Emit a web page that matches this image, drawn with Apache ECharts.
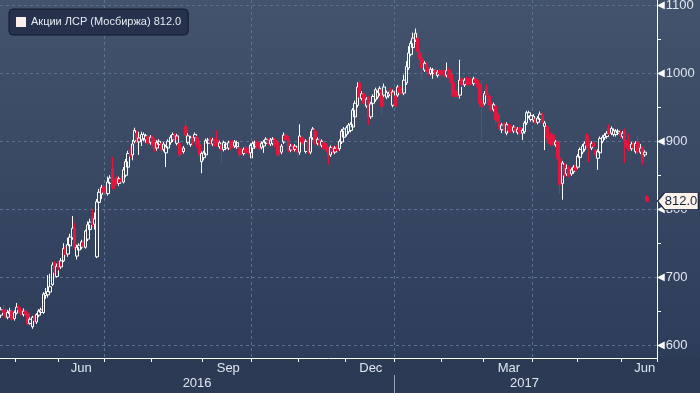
<!DOCTYPE html>
<html><head><meta charset="utf-8">
<script src="https://cdn.jsdelivr.net/npm/echarts@6/dist/echarts.min.js"></script>
<style>html,body{margin:0;padding:0;background:#2c3a56;}#c{width:700px;height:393px;}</style>
</head><body><div id="c"></div>
<script>
// ---- data ----
const seriesName = 'Акции ЛСР (Мосбиржа)';
const months = ['2016-04','2016-05','2016-06','2016-07','2016-08','2016-09','2016-10','2016-11','2016-12','2017-01','2017-02','2017-03','2017-04','2017-05','2017-06'];
const sessionDays = [
 [21,22,25,26,27,28,29],
 [4,5,6,10,11,12,13,16,17,18,19,20,23,24,25,26,27,30,31],
 [1,2,3,6,7,8,9,10,14,15,16,17,20,21,22,23,24,27,28,29,30],
 [1,4,5,6,7,8,11,12,13,14,15,18,19,20,21,22,25,26,27,28,29],
 [1,2,3,4,5,8,9,10,11,12,15,16,17,18,19,22,23,24,25,26,29,30,31],
 [1,2,5,6,7,8,9,12,13,14,15,16,19,20,21,22,23,26,27,28,29,30],
 [3,4,5,6,7,10,11,12,13,14,17,18,19,20,21,24,25,26,27,28,31],
 [1,2,3,7,8,9,10,11,14,15,16,17,18,21,22,23,24,25,28,29,30],
 [1,2,5,6,7,8,9,12,13,14,15,16,19,20,21,22,23,26,27,28,29,30],
 [3,4,5,6,9,10,11,12,13,16,17,18,19,20,23,24,25,26,27,30,31],
 [1,2,3,6,7,8,9,10,13,14,15,16,17,20,21,22,24,27,28],
 [1,2,3,6,7,9,10,13,14,15,16,17,20,21,22,23,24,27,28,29,30,31],
 [3,4,5,6,7,10,11,12,13,14,17,18,19,20,21,24,25,26,27,28],
 [2,3,4,5,10,11,12,15,16,17,18,19,22,23,24,25,26,29,30,31],
 [1,2,5,6,7,8,9,13,14,15,16,19,20,21,22,23]
];
const lastMonthSessions = 21;
const monthNames = ['Jan','Feb','Mar','Apr','May','Jun','Jul','Aug','Sep','Oct','Nov','Dec'];
const labelMonths = ['2016-06','2016-09','2016-12','2017-03','2017-06'];
const quarterMonths = ['01','04','07','10'];
const yearLabels = ['2016','2017'];

const opens = [
 644,652,650,641,646,650,639,
 647,655,652,645,650,647,632,627,641,634,644,648,648,673,674,678,689,721,701,
 721,715,724,744,734,746,758,772,731,740,744,752,744,756,770,789,778,730,810,822,833,
 832,823,838,860,840,847,838,846,840,850,862,888,880,900,912,899,902,904,902,907,898,
 906,902,890,895,897,888,883,890,898,902,909,897,897,890,885,922,898,895,905,905,905,895,870,
 876,880,897,903,896,902,902,892,895,888,890,890,898,899,893,892,890,887,882,890,888,883,
 890,892,898,898,891,893,897,902,896,897,902,898,890,884,899,909,905,887,893,888,890,
 884,906,903,885,900,884,905,915,897,902,894,898,894,889,880,890,884,894,889,899,906,
 910,914,916,921,936,953,986,963,970,952,964,936,956,961,965,970,976,968,965,967,976,953,
 967,968,980,978,971,986,1008,1028,1038,1049,1052,1030,1022,1005,1013,1006,1000,1000,1005,997,1004,
 1004,1002,997,1005,998,986,972,974,968,992,983,992,991,990,985,992,990,984,960,
 956,980,966,956,947,952,940,927,917,925,912,923,922,915,920,913,920,912,914,927,937,932,
 931,933,928,932,939,922,921,909,910,909,895,899,875,838,865,852,861,852,855,864,
 862,876,884,888,909,897,890,898,887,875,883,900,905,907,919,912,910,910,912,913,
 907,916,899,895,889,897,885,899,884,890,880,818
];
const closes = [
 652,648,641,648,650,638,648,
 656,652,646,650,645,631,638,641,636,645,650,652,675,676,679,686,718,707,716,
 715,724,742,733,748,759,772,744,744,747,752,745,768,777,781,777,786,811,825,832,825,
 824,840,846,832,834,840,845,840,858,870,882,878,896,916,902,905,910,910,908,897,906,
 898,888,898,900,887,896,892,900,906,910,903,908,880,884,890,909,908,905,897,910,895,880,882,
 883,901,902,898,902,895,895,898,887,898,896,898,890,893,899,898,880,882,888,883,883,894,
 897,898,893,889,897,899,903,897,902,903,894,880,883,893,909,902,887,893,888,893,884,
 908,899,896,900,884,906,918,898,903,894,900,889,887,878,891,885,890,886,900,915,918,
 920,924,925,946,956,980,965,970,956,962,935,955,966,976,972,978,951,980,972,970,970,973,
 952,980,972,970,990,1010,1030,1044,1052,1059,1032,1022,1008,1015,1005,1000,1006,1005,998,1002,999,
 998,997,1004,996,988,968,966,966,990,983,990,985,985,986,992,986,980,956,951,
 970,968,956,947,954,932,929,918,924,917,925,916,915,921,915,918,912,916,927,942,942,938,
 937,927,934,940,929,927,906,899,896,895,899,875,836,868,850,860,850,858,862,857,
 878,888,893,897,894,891,897,892,880,885,904,906,909,912,912,919,916,915,915,908,
 912,899,892,888,896,890,897,884,890,870,884,812
];
const lows = [
 640,645,639,638,643,636,636,
 645,648,643,642,642,629,630,624,633,631,641,645,646,668,670,676,687,703,699,
 710,712,722,730,730,742,755,740,726,737,741,742,742,753,767,774,770,728,805,815,820,
 820,820,834,829,830,836,834,836,838,847,858,875,872,897,898,880,893,900,898,894,895,
 893,884,886,890,884,885,862,887,895,899,900,894,877,880,882,905,895,892,894,900,890,877,853,
 872,877,894,895,893,892,892,889,868,885,887,887,887,890,890,889,877,879,879,880,880,875,
 875,889,890,886,888,883,894,894,893,894,891,877,879,881,896,899,884,884,885,885,875,
 880,896,893,882,881,881,902,895,894,891,891,886,884,866,877,882,881,883,886,896,903,
 907,911,913,918,933,950,962,960,953,949,924,933,953,958,962,967,939,965,962,964,967,950,
 949,965,969,967,968,983,1005,1025,1035,1046,1028,1018,990,1002,1002,997,997,992,995,994,996,
 995,994,994,993,985,965,963,962,963,980,980,982,982,983,982,983,977,950,902,
 953,965,953,944,944,926,926,915,912,914,909,913,912,912,912,910,909,902,911,924,934,929,
 928,924,925,929,926,887,903,896,893,892,892,872,822,814,847,849,847,849,852,854,
 859,873,881,885,891,869,887,889,877,858,880,897,902,904,909,909,907,907,909,905,
 904,868,889,885,886,887,882,881,881,865,877,810
];
const highs = [
 656,660,654,652,655,653,651,
 662,659,655,654,653,649,641,643,644,647,653,655,678,684,703,705,722,724,720,
 724,728,750,748,758,764,790,780,748,750,755,755,770,782,786,800,795,815,830,836,838,
 836,848,850,877,845,850,848,850,862,874,886,892,902,920,916,914,914,913,911,910,909,
 909,905,902,903,900,899,895,903,909,913,912,911,900,893,893,932,912,908,908,913,908,898,885,
 886,904,905,906,905,905,916,901,898,901,899,901,901,902,902,901,893,890,891,893,891,897,
 900,901,901,901,900,902,906,905,905,906,905,901,893,896,913,912,908,896,896,896,893,
 925,909,906,903,903,915,921,918,906,905,903,901,897,892,894,893,893,897,903,918,921,
 923,927,928,949,960,987,990,974,973,965,967,958,969,979,975,981,979,985,975,973,979,976,
 970,983,983,981,998,1018,1040,1048,1060,1066,1064,1035,1025,1018,1016,1009,1009,1008,1008,1005,1007,
 1007,1005,1016,1008,1001,989,975,977,1020,995,993,995,994,993,995,995,993,987,990,
 974,984,969,959,957,955,943,930,927,928,928,926,925,924,923,921,923,919,930,945,945,941,
 940,936,937,944,942,930,924,912,913,912,902,902,878,871,868,866,864,861,865,867,
 881,891,896,900,912,900,900,901,890,888,907,909,912,915,925,922,919,918,918,916,
 915,919,902,912,899,900,900,908,896,893,887,821
];

// ---- build categories & axis helpers ----
const dates = [];
const monthStart = [];
months.forEach((m, mi) => {
  monthStart.push(dates.length);
  sessionDays[mi].forEach(d => dates.push(m + '-' + String(d).padStart(2, '0')));
});
const tickSet = new Set(monthStart.slice(1));
const splitSet = new Set();
months.forEach((m, mi) => { if (quarterMonths.includes(m.slice(5)) && mi > 0) splitSet.add(monthStart[mi]); });
const labelAt = {};
labelMonths.forEach(m => {
  const mi = months.indexOf(m);
  const n = mi === months.length - 1 ? lastMonthSessions : sessionDays[mi].length;
  labelAt[monthStart[mi] + Math.floor(n / 2)] = monthNames[parseInt(m.slice(5), 10) - 1];
});
const yearAt = {};
const yearSep = [];
yearLabels.forEach((y, yi) => {
  let first = -1, last = -1;
  dates.forEach((d, i) => { if (d.startsWith(y)) { if (first < 0) first = i; last = i; } });
  yearAt[Math.floor((first + last) / 2)] = y;
  if (yi > 0) yearSep.push(first);
});
const candles = opens.map((o, i) => [o, closes[i], lows[i], highs[i]]);
const lastIdx = closes.length - 1;
const lastClose = closes[lastIdx];

const font = 'Liberation Sans, Arial, sans-serif';
const chart = echarts.init(document.getElementById('c'), null, {renderer: 'canvas'});
const option = {
  animation: false,
  backgroundColor: new echarts.graphic.LinearGradient(0, 0, 0, 1, [
    {offset: 0, color: '#43536d'},
    {offset: 0.91, color: '#2d3c59'},
    {offset: 0.911, color: '#2c3a56'},
    {offset: 1, color: '#2c3a56'}
  ]),
  grid: {left: 0, right: 43, top: 0, bottom: 35, containLabel: false, outerBoundsMode: 'none'},
  legend: {
    show: true, left: 9, top: 9, orient: 'horizontal',
    padding: [6, 7, 6, 7],
    backgroundColor: '#25314d', borderColor: '#121a2d', borderWidth: 1, borderRadius: 4,
    icon: 'rect', itemWidth: 10, itemHeight: 10, itemGap: 5,
    selectedMode: false,
    data: [{name: seriesName, itemStyle: {color: '#fcefe9', borderWidth: 0}}],
    formatter: n => n + ' ' + lastClose.toFixed(1),
    textStyle: {color: '#e6ebf2', fontSize: 11, fontFamily: font, lineHeight: 14}
  },
  xAxis: [{
    type: 'category', data: dates, boundaryGap: true,
    axisLine: {show: true, lineStyle: {color: '#ffffff', width: 1}},
    axisTick: {show: true, length: 4, interval: (i) => tickSet.has(i), lineStyle: {color: '#ffffff'}},
    axisLabel: {show: true, interval: (i) => labelAt[i] !== undefined, formatter: (v, i) => labelAt[i] || '',
      color: '#dfe6ef', fontSize: 13, fontFamily: font, margin: 4},
    splitLine: {show: true, interval: (i) => splitSet.has(i), lineStyle: {color: '#5a7190', type: [3, 3], width: 1}}
  }, {
    type: 'category', data: dates, boundaryGap: true, position: 'bottom', offset: 17,
    axisLine: {show: false},
    axisTick: {show: false},
    axisLabel: {show: true, interval: (i) => yearAt[i] !== undefined, formatter: (v, i) => yearAt[i] || '',
      color: '#dfe6ef', fontSize: 13, fontFamily: font, margin: 2},
    splitLine: {show: false}
  }],
  yAxis: {
    type: 'value', position: 'right', min: 581, max: 1108, splitNumber: 5,
    axisLine: {show: true, lineStyle: {color: '#ffffff', width: 1}},
    axisTick: {show: false},
    minorTick: {show: true, splitNumber: 2, length: 4, lineStyle: {color: '#ffffff'}},
    splitLine: {show: true, showMinLine: false, showMaxLine: false, lineStyle: {color: '#5a7190', type: [3, 3], width: 1}},
    axisLabel: {
      show: true, margin: 0, showMinLabel: false, showMaxLabel: false,
      formatter: v => '{t|◀}{v|' + v + '}',
      rich: {
        t: {fontSize: 10, color: '#ffffff', fontFamily: 'DejaVu Sans', padding: [0, 1, 0, 0]},
        v: {fontSize: 13, color: '#dfe6ef', fontFamily: font}
      }
    }
  },
  series: [{
    type: 'candlestick', name: seriesName, xAxisIndex: 0, data: candles,
    barWidth: 3,
    itemStyle: {color: 'rgba(0,0,0,0)', color0: '#e3173e', borderColor: '#ffffff', borderColor0: '#e3173e', borderWidth: 1},
    markPoint: {
      silent: true,
      symbol: 'path://M0,8 L7,0 L40,0 L40,16 L7,16 Z',
      symbolSize: [41, 17], symbolOffset: [31, 0],
      itemStyle: {color: '#fbf3ea', borderColor: '#1b2540', borderWidth: 1},
      label: {show: true, formatter: lastClose.toFixed(1), color: '#15203a', fontSize: 13, fontFamily: font, offset: [3, 0]},
      data: [{coord: [dates[lastIdx], lastClose]}]
    }
  }]
};
if (opens.length !== closes.length || lows.length !== closes.length || highs.length !== closes.length) {
  option.title = {text: 'LEN ' + [opens.length, closes.length, lows.length, highs.length].join(','), left: 300, top: 100, textStyle: {color: '#ff0'}};
}
chart.setOption(option);

// year separator below the axis, at the boundary between the two years' sessions
const axisY = chart.convertToPixel({yAxisIndex: 0}, 581);
const seps = yearSep.map(i => {
  const xa = chart.convertToPixel({xAxisIndex: 0}, dates[i - 1]);
  const xb = chart.convertToPixel({xAxisIndex: 0}, dates[i]);
  const x = Math.round((xa + xb) / 2) + 0.5;
  return {type: 'line', silent: true, shape: {x1: x, y1: axisY + 17, x2: x, y2: axisY + 36}, style: {stroke: '#98a3b3', lineWidth: 1}};
});
chart.setOption({graphic: seps});
</script></body></html>
